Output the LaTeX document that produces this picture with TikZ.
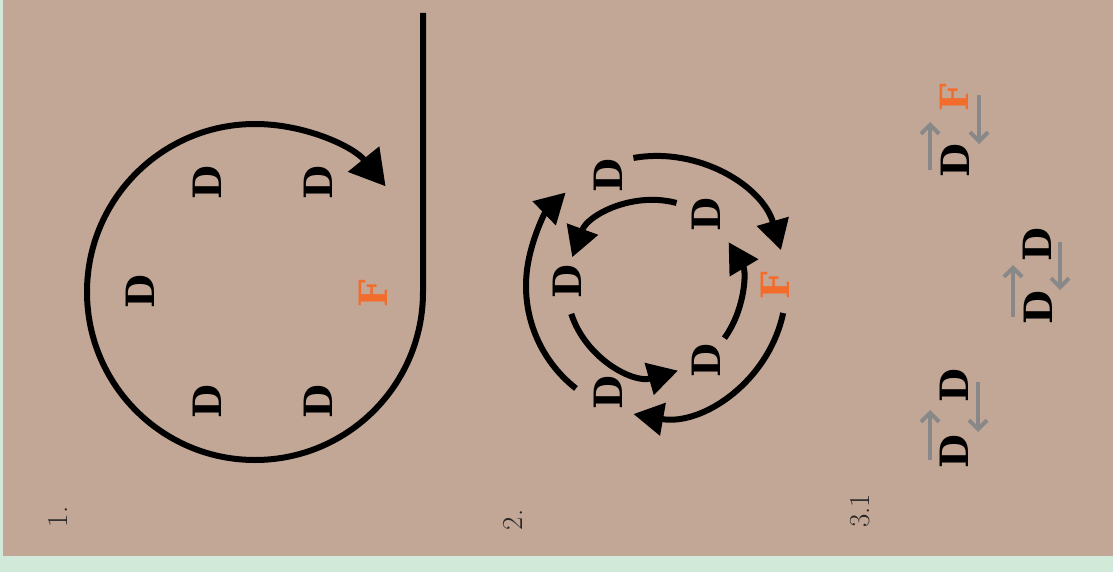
\documentclass[tikz,border=0pt]{standalone}
\usepackage{fontspec}
\newfontfamily\slabfont{DejaVu Serif}
\usetikzlibrary{arrows.meta}

\definecolor{sand}{RGB}{194,167,150}
\definecolor{mint}{RGB}{208,233,216}
\definecolor{flame}{RGB}{242,108,44}
\definecolor{ash}{RGB}{136,136,136}

\tikzset{
  dee/.style={rotate=90, inner sep=0pt, font=\slabfont\bfseries\fontsize{39}{39}\selectfont},
  eff/.style={dee, text=flame},
  tag/.style={rotate=90, inner sep=0pt, text=black!85, font=\fontsize{29}{35}\selectfont},
  ring/.style={line width=6pt},
  hop/.style={ash, line width=4pt, -{Straight Barb[length=9pt,width=18pt]}}
}

\begin{document}
\begin{tikzpicture}[x=1pt, y=1pt]
    \fill[mint] (0,0) rectangle (1113,-572);
    \fill[sand] (3,0) rectangle (1113,-556);
    \useasboundingbox (0,0) rectangle (1113,-572);

    \node (L1) at ( 58,-517) [tag] {1.};
    \node (A1) at (140,-292) [dee] {D};
    \node (A2) at (207,-183) [dee] {D};
    \node (A3) at (318,-183) [dee] {D};
    \node (AF) at (373,-294) [eff] {F};
    \node (A4) at (318,-402) [dee] {D};
    \node (A5) at (207,-402) [dee] {D};

    \coordinate (O1) at (255,-292);
    \coordinate (T1) at (423,-13);
    \draw[ring, -{Triangle[length=35pt,width=39pt]}] (T1) -- ([xshift=168pt]O1)
        arc[start angle=0, end angle=-321, radius=168];

    %-----

    \node (L2) at (513,-520) [tag] {2.};
    \node (B1) at (608,-176) [dee] {D};
    \node (B2) at (706,-215) [dee] {D};
    \node (B3) at (567,-282) [dee] {D};
    \node (BF) at (775,-286) [eff] {F};
    \node (B4) at (706,-361) [dee] {D};
    \node (B5) at (608,-393) [dee] {D};

    \coordinate (O2) at (656,-286);
    \coordinate (O3) at (654,-287);
    \begin{scope}[ring, -{Triangle[length=30pt,width=32pt]}]
    \draw ([shift={(100:130)}]O2) arc[start angle=100,  end angle=16,   radius=130];
    \draw ([shift={(-12:130)}]O2) arc[start angle=-12,  end angle=-100, radius=130];
    \draw ([shift={(-128:130)}]O2) arc[start angle=-128, end angle=-226, radius=130];
    \draw ([shift={(75:87)}]O3) arc[start angle=75,  end angle=160, radius=87];
    \draw ([shift={(198:87)}]O3) arc[start angle=198, end angle=286, radius=87];
    \draw ([shift={(324:87)}]O3) arc[start angle=324, end angle=391, radius=87];
    \end{scope}

    %-----

    \node (L3) at (860,-511) [tag] {3.1};
    \node (CF) at (954,-98)  [eff] {F};
    \node (C1) at (955,-161) [dee] {D};
    \node (C2) at (1037,-245) [dee] {D};
    \node (C3) at (1038,-308) [dee] {D};
    \node (C4) at (954,-386) [dee] {D};
    \node (C5) at (954,-452) [dee] {D};

    \draw[hop] (930,-170) -- (930,-122);
    \draw[hop] (979,-95)  -- (979,-144);
    \draw[hop] (1013,-317) -- (1013,-265);
    \draw[hop] (1060,-242) -- (1060,-290);
    \draw[hop] (930,-460) -- (930,-410);
    \draw[hop] (978,-382) -- (978,-432);
\end{tikzpicture}
\end{document}
